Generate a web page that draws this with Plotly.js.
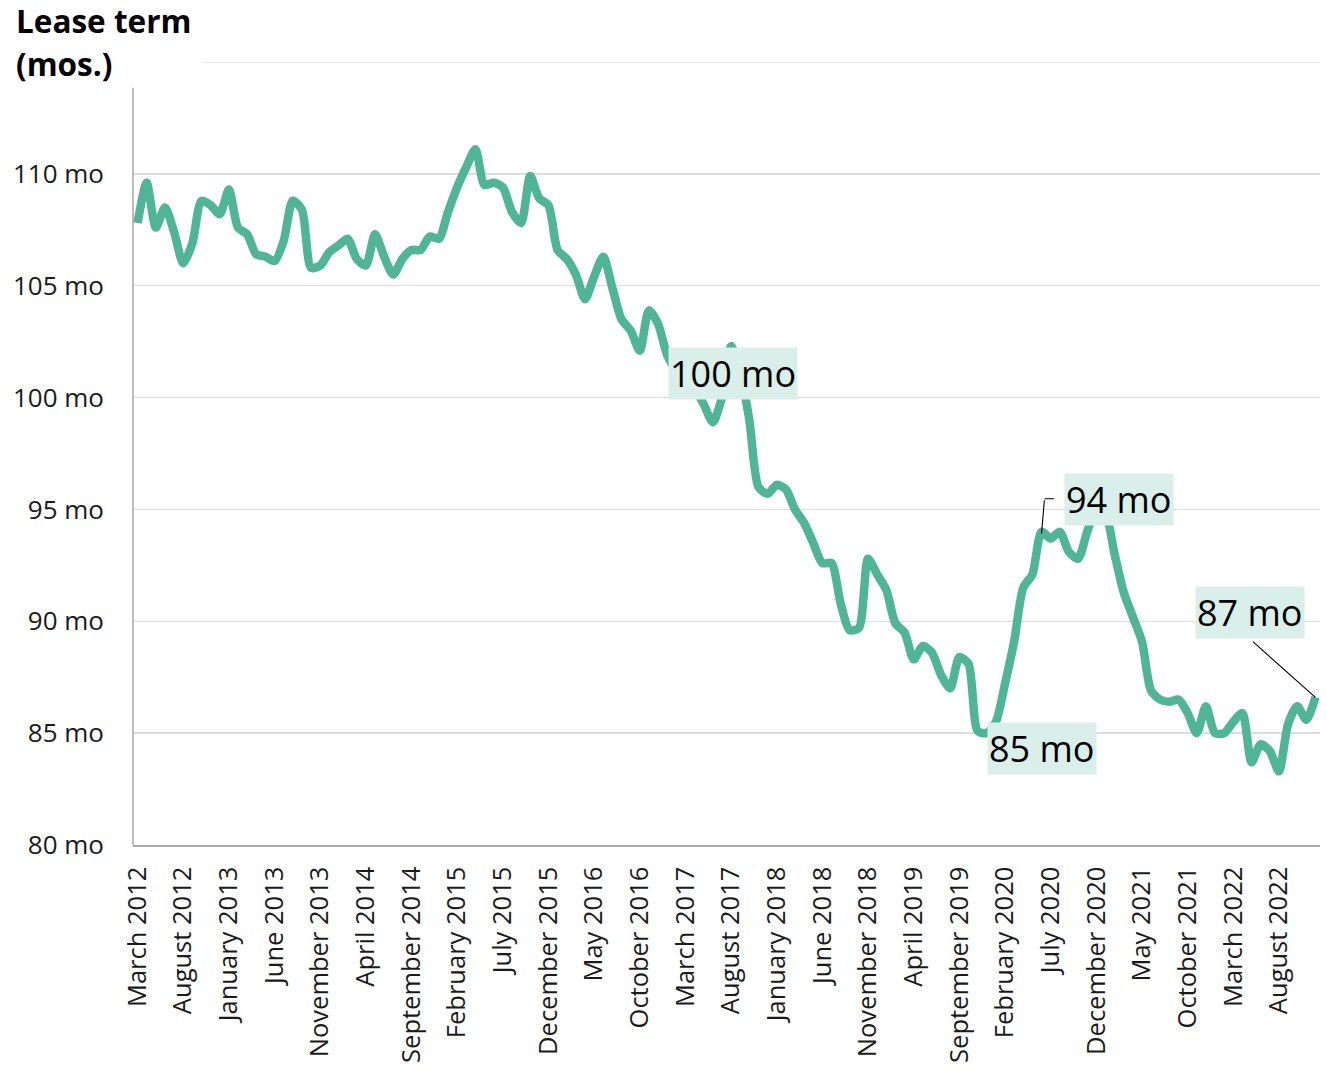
<!DOCTYPE html>
<html>
<head>
<meta charset="utf-8">
<script src="https://cdn.plot.ly/plotly-3.0.1.min.js"></script>
<style>
  html, body { margin: 0; padding: 0; background: #ffffff; }
  #chart { width: 1327px; height: 1071px; }
</style>
</head>
<body>
<div id="chart"></div>
<script>
// Average lease term, monthly, March 2012 – December 2022
const monthNames = ['January', 'February', 'March', 'April', 'May', 'June', 'July',
  'August', 'September', 'October', 'November', 'December'];
const startYear = 2012;
const startMonth = 2; // March
const monthCount = 130;

const leaseTerm = [
  107.8, 109.6, 107.6, 108.5, 107.4, 106.0, 106.9, 108.8, 108.6, 108.2,
  109.3, 107.6, 107.3, 106.4, 106.3, 106.1, 107.0, 108.8, 108.4, 105.8,
  105.9, 106.5, 106.8, 107.1, 106.2, 105.9, 107.3, 106.3, 105.5, 106.2,
  106.6, 106.6, 107.2, 107.1, 108.3, 109.4, 110.3, 111.1, 109.5, 109.6,
  109.4, 108.3, 107.8, 109.9, 108.9, 108.6, 106.6, 106.2, 105.5, 104.4,
  105.4, 106.3, 104.9, 103.5, 103.0, 102.1, 103.9, 103.3, 101.9, 101.2,
  100.8, 100.4, 99.7, 98.9, 100.0, 102.3, 101.1, 99.0, 96.0, 95.7,
  96.1, 95.9, 95.0, 94.4, 93.5, 92.6, 92.6, 90.8, 89.6, 89.7,
  92.8, 92.1, 91.4, 89.9, 89.5, 88.3, 88.9, 88.6, 87.6, 87.0,
  88.4, 88.1, 85.1, 85.0, 85.5, 87.2, 89.1, 91.5, 92.1, 94.0,
  93.7, 94.0, 93.1, 92.8, 94.0, 95.0, 94.8, 93.0, 91.3, 90.2,
  89.1, 86.9, 86.5, 86.4, 86.5, 85.9, 85.0, 86.2, 85.0, 85.0,
  85.5, 85.9, 83.7, 84.5, 84.2, 83.3, 85.4, 86.2, 85.6, 86.6
];

const xTickLabels = [
  'March 2012', 'August 2012', 'January 2013', 'June 2013', 'November 2013',
  'April 2014', 'September 2014', 'February 2015', 'July 2015', 'December 2015',
  'May 2016', 'October 2016', 'March 2017', 'August 2017', 'January 2018',
  'June 2018', 'November 2018', 'April 2019', 'September 2019', 'February 2020',
  'July 2020', 'December 2020', 'May 2021', 'October 2021', 'March 2022', 'August 2022'
];

const yTickValues = [80, 85, 90, 95, 100, 105, 110];
const yTopGrid = 115;

const headingLines = ['Lease term', '(mos.)'];

// Months that carry a value callout
const calloutMonths = ['April 2017', 'December 2019', 'June 2020', 'December 2022'];

// Category labels, one per month
const months = [];
for (let k = 0; k < monthCount; k++) {
  const m = (startMonth + k) % 12;
  const y = startYear + Math.floor((startMonth + k) / 12);
  months.push(monthNames[m] + ' ' + y);
}

const lineColor = '#4fb594';
const boxColor = '#daefe9';
const font = 'Open Sans, Noto Sans, sans-serif';

function valueAt(month) {
  return leaseTerm[months.indexOf(month)];
}
function label(month) {
  return Math.round(valueAt(month)) + ' mo';
}

const trace = {
  type: 'scatter',
  mode: 'lines',
  x: months,
  y: leaseTerm,
  line: { color: lineColor, width: 8.5, shape: 'spline', smoothing: 0.7 },
  hoverinfo: 'x+y'
};

function callout(month, xshift, yshift) {
  return {
    x: month, y: valueAt(month), xref: 'x', yref: 'y',
    text: label(month), showarrow: false,
    xanchor: 'left', yanchor: 'top', xshift: xshift, yshift: yshift,
    bgcolor: boxColor, borderpad: 1,
    font: { family: font, size: 36, color: '#000000' }
  };
}
function leader(month, ax, ay, xshift, yshift) {
  return {
    x: month, y: valueAt(month), xref: 'x', yref: 'y',
    text: '', showarrow: true, arrowhead: 0, arrowwidth: 1.1,
    arrowcolor: '#000000', standoff: 0, startstandoff: 0,
    ax: ax, ay: ay, xshift: xshift || 0, yshift: yshift || 0
  };
}
// heading line, centred vertically on a pixel row of the page
function heading(text, centreY) {
  return {
    xref: 'paper', yref: 'paper', x: (14 - 133) / 1187, y: (845 - centreY) / 783,
    xanchor: 'left', yanchor: 'middle', align: 'left', showarrow: false,
    text: '<b>' + text + '</b>',
    font: { family: font, size: 31.5, color: '#000000' }
  };
}

const annotations = [
  heading(headingLines[0], 21),
  heading(headingLines[1], 63),
  callout(calloutMonths[0], -27, 42),
  callout(calloutMonths[1], 0, 11),
  callout(calloutMonths[2], 22, 59),
  callout(calloutMonths[3], -120, 111),
  // elbow leader for the mid-2020 callout
  leader(calloutMonths[2], 3, -35, 0, -2),
  leader(calloutMonths[2], 11, 0, 3, 33),
  // straight leader for the latest value
  leader(calloutMonths[3], -64, -57, 0, 0)
];

const layout = {
  width: 1327,
  height: 1071,
  margin: { l: 133, r: 7, t: 62, b: 226 },
  paper_bgcolor: '#ffffff',
  plot_bgcolor: '#ffffff',
  showlegend: false,
  font: { family: font, color: '#1a1a1a' },
  xaxis: {
    type: 'category',
    categoryorder: 'array',
    categoryarray: months,
    range: [-0.5, monthCount - 0.5],
    tickmode: 'array',
    tickvals: xTickLabels,
    ticktext: xTickLabels,
    tickangle: -90,
    ticks: '',
    ticklabelstandoff: 10,
    tickfont: { family: font, size: 25.5, color: '#1a1a1a' },
    showgrid: false,
    showline: true,
    linecolor: '#a6a6a6',
    linewidth: 1.5,
    zeroline: false,
    fixedrange: true
  },
  yaxis: {
    range: [80, 115],
    tickmode: 'array',
    tickvals: yTickValues,
    ticktext: yTickValues.map(v => v + ' mo'),
    ticks: '',
    ticklabelstandoff: 28,
    tickfont: { family: font, size: 26, color: '#1a1a1a' },
    showgrid: true,
    gridcolor: '#dcdcdc',
    gridwidth: 1.3,
    showline: false,
    zeroline: false,
    fixedrange: true
  },
  shapes: [
    // top grid line, starting right of the heading
    { type: 'line', xref: 'paper', yref: 'y', x0: 70 / 1187, x1: 1, y0: yTopGrid, y1: yTopGrid,
      line: { color: '#d0d0d0', width: 1.2 }, layer: 'below' },
    // vertical axis line
    { type: 'line', xref: 'paper', yref: 'y', x0: 0, x1: 0, y0: 80, y1: 113.85,
      line: { color: '#a6a6a6', width: 1.5 }, layer: 'above' }
  ],
  annotations: annotations
};

Plotly.newPlot('chart', [trace], layout, { displayModeBar: false, staticPlot: true });
</script>
</body>
</html>
